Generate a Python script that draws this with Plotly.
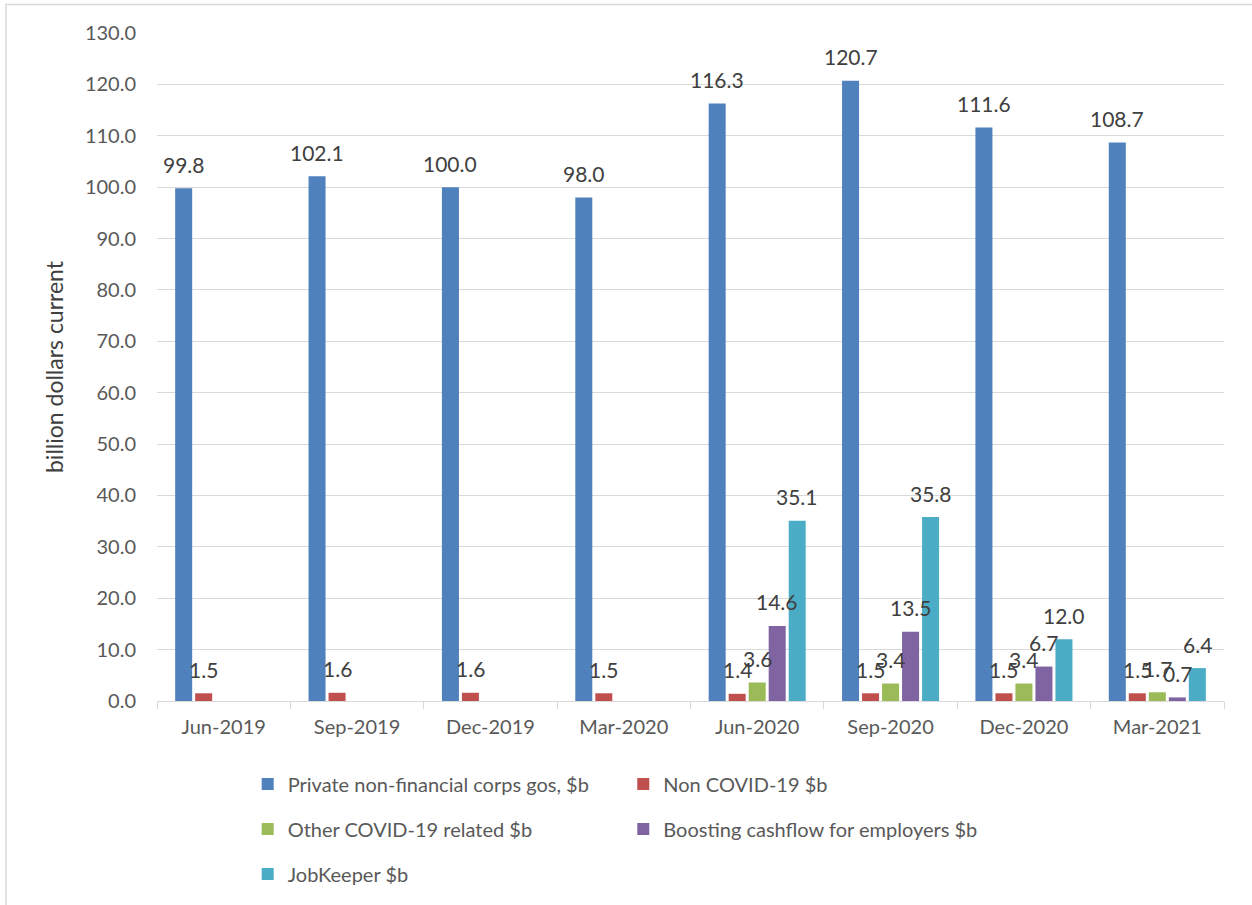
import plotly.graph_objects as go

quarters = ["Jun-2019", "Sep-2019", "Dec-2019", "Mar-2020",
            "Jun-2020", "Sep-2020", "Dec-2020", "Mar-2021"]

gos_private = [99.8, 102.1, 100.0, 98.0, 116.3, 120.7, 111.6, 108.7]
non_covid = [1.5, 1.6, 1.6, 1.5, 1.4, 1.5, 1.5, 1.5]
other_covid = [None, None, None, None, 3.6, 3.4, 3.4, 1.7]
boosting_cashflow = [None, None, None, None, 14.6, 13.5, 6.7, 0.7]
jobkeeper = [None, None, None, None, 35.1, 35.8, 12.0, 6.4]

series_names = [
    "Private non-financial corps gos, $b",
    "Non COVID-19 $b",
    "Other COVID-19 related $b",
    "Boosting cashflow for employers $b",
    "JobKeeper $b",
]
series_values = [gos_private, non_covid, other_covid, boosting_cashflow, jobkeeper]
series_colors = ["#4f81bd", "#c0504d", "#9bbb59", "#8064a2", "#4bacc6"]
legend_ids = ["legend", "legend2", "legend", "legend2", "legend"]

W, H = 1252, 905
M_L, M_R, M_T, M_B = 157, 28, 33, 204
BARGAP = 0.25
FONT = "Lato"

fig = go.Figure()
for i, (name, vals, col, lg) in enumerate(zip(series_names, series_values, series_colors, legend_ids)):
    fig.add_trace(go.Bar(
        x=quarters, y=vals, name=name,
        marker=dict(color=col, line=dict(width=0)),
        legend=lg, legendgroup=f"g{i}",
        hoverinfo="x+y+name",
    ))

# value labels above each bar, shifted onto the bar's slot within the group
plot_w = W - M_L - M_R
slot = plot_w / len(quarters) * (1 - BARGAP) / len(series_values)
annotations = []
for i, vals in enumerate(series_values):
    for q, v in zip(quarters, vals):
        if v is None:
            continue
        annotations.append(dict(
            x=q, y=v, xref="x", yref="y", text=f"{v:.1f}",
            showarrow=False, xshift=(i - 2) * slot, yshift=24,
            yanchor="middle", xanchor="center",
            font=dict(family=FONT, size=21, color="#404040"),
        ))

fig.update_layout(
    width=W, height=H,
    margin=dict(l=M_L, r=M_R, t=M_T, b=M_B),
    paper_bgcolor="white", plot_bgcolor="white",
    barmode="group", bargap=BARGAP, bargroupgap=0.15,
    font=dict(family=FONT, size=20, color="#595959"),
    annotations=annotations,
    legend=dict(
        orientation="v", x=0.085, xanchor="left", y=-0.095, yanchor="top",
        traceorder="grouped", tracegroupgap=16,
        font=dict(family=FONT, size=20, color="#595959"),
        bgcolor="rgba(0,0,0,0)", itemclick=False,
    ),
    legend2=dict(
        orientation="v", x=0.437, xanchor="left", y=-0.095, yanchor="top",
        traceorder="grouped", tracegroupgap=16,
        font=dict(family=FONT, size=20, color="#595959"),
        bgcolor="rgba(0,0,0,0)", itemclick=False,
    ),
    shapes=[dict(
        type="rect", xref="paper", yref="paper",
        x0=(6 - M_L) / plot_w, x1=1.1, y0=-0.5,
        y1=(H - M_B - 4.5) / (H - M_T - M_B),
        line=dict(color="#d9d9d9", width=1.5), layer="below",
    )],
)

fig.update_xaxes(
    type="category", showgrid=False,
    showline=True, linecolor="#d9d9d9", linewidth=1.3,
    ticks="outside", tickson="boundaries", ticklen=7, tickcolor="#d9d9d9", tickwidth=1.3,
    tickfont=dict(family=FONT, size=20, color="#595959"),
    ticklabelstandoff=8,
)
fig.update_yaxes(
    range=[0, 130], dtick=10, tickformat=".1f",
    showgrid=True, gridcolor="#d9d9d9", gridwidth=1.3,
    zeroline=False, showline=False, ticks="",
    tickfont=dict(family=FONT, size=20, color="#595959"),
    ticklabelstandoff=20,
    title=dict(text="billion dollars current", standoff=14,
               font=dict(family=FONT, size=23, color="#404040")),
)

fig.write_html("out.html")
